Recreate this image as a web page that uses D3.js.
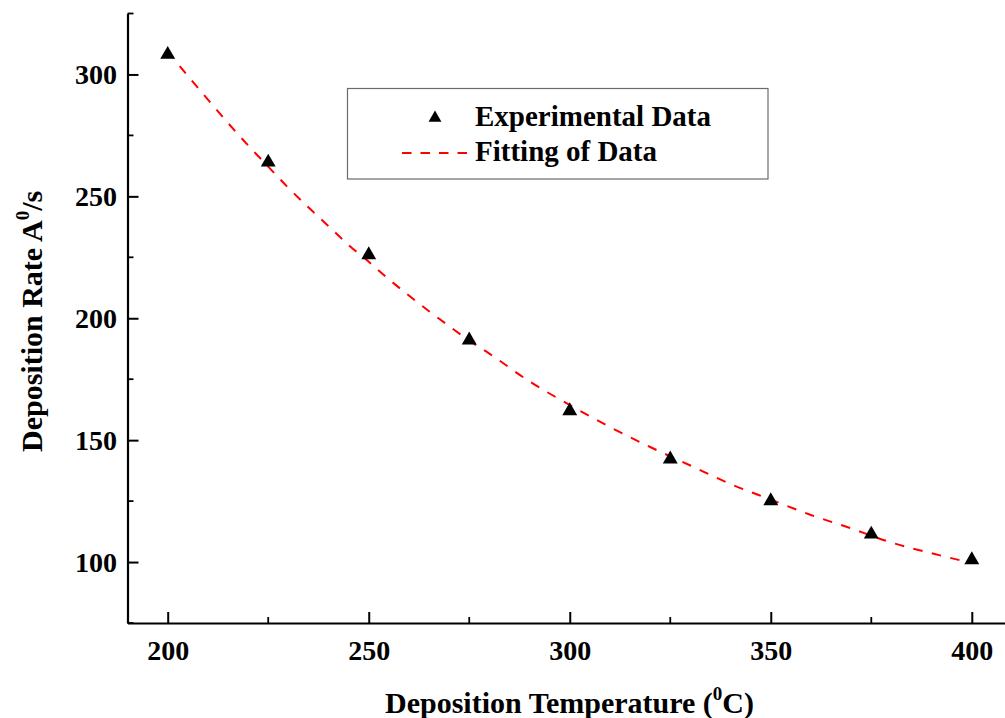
<!DOCTYPE html>
<html>
<head>
<meta charset="utf-8">
<script src="https://cdn.jsdelivr.net/npm/d3@7"></script>
<style>
  html, body { margin: 0; padding: 0; background: #fff; }
  svg { display: block; }
  text { font-family: "Liberation Serif", "Times New Roman", serif; font-weight: bold; fill: #000; }
</style>
</head>
<body>
<svg id="chart" width="1005" height="718"></svg>
<script>
// ---- data ----
const temperatures = [200, 225, 250, 275, 300, 325, 350, 375, 400];
const depositionRate = [308.6, 264.4, 226.4, 191.4, 162.4, 142.6, 125.5, 111.8, 101.3];

const fitTemperature = [200, 205, 210, 215, 220, 225, 230, 235, 240, 245, 250, 255, 260, 265, 270, 275, 280, 290, 300, 310, 320, 330, 340, 350, 360, 370, 380, 390, 400];
const fitRate = [309.5, 299.4, 289.7, 280.1, 270.9, 262.2, 253.5, 245.5, 237.8, 230.0, 223.2, 216.0, 209.3, 202.9, 196.8, 190.8, 185.5, 174.1, 164.4, 155.4, 147.2, 139.6, 132.0, 125.6, 119.3, 113.8, 108.0, 103.6, 99.6];

const xTickValues = [200, 250, 300, 350, 400];
const xMinorTicks = [225, 275, 325, 375];
const yTickValues = [100, 150, 200, 250, 300];
const yMinorTicks = [75, 125, 175, 225, 275, 325];

const legendLabels = ["Experimental Data", "Fitting of Data"];

// ---- layout ----
const svg = d3.select("#chart");
const x = d3.scaleLinear().domain([190, 410]).range([127.5, 1012]);
const y = d3.scaleLinear().domain([75, 325]).range([623, 13.5]);

// axes
const xAxis = d3.axisBottom(x).tickValues(xTickValues).tickSize(-11).tickSizeOuter(0).tickPadding(17).tickFormat(d3.format("d"));
const yAxis = d3.axisLeft(y).tickValues(yTickValues).tickSize(-11).tickSizeOuter(0).tickPadding(10.5).tickFormat(d3.format("d"));

const gx = svg.append("g").attr("transform", `translate(0,${y.range()[0]})`).call(xAxis);
const gy = svg.append("g").attr("transform", `translate(${x.range()[0]},0)`).call(yAxis);

[gx, gy].forEach(g => {
  g.select(".domain").attr("stroke", "#000").attr("stroke-width", 2.2);
  g.selectAll(".tick line").attr("stroke", "#000").attr("stroke-width", 2);
  g.selectAll(".tick text").style("font-family", '"Liberation Serif", serif')
    .style("font-weight", "bold").style("font-size", "28px").attr("fill", "#000");
});
gx.selectAll(".tick text").attr("dy", "0.71em");
gy.selectAll(".tick text").attr("dy", "0.34em");

// minor ticks
svg.append("g").selectAll("line").data(xMinorTicks).join("line")
  .attr("x1", d => x(d)).attr("x2", d => x(d))
  .attr("y1", y.range()[0]).attr("y2", y.range()[0] - 6)
  .attr("stroke", "#000").attr("stroke-width", 1.8);
svg.append("g").selectAll("line").data(yMinorTicks).join("line")
  .attr("y1", d => y(d)).attr("y2", d => y(d))
  .attr("x1", x.range()[0]).attr("x2", x.range()[0] + 6)
  .attr("stroke", "#000").attr("stroke-width", 1.8);

// fit line
const line = d3.line().x((d, i) => x(fitTemperature[i])).y(d => y(d)).curve(d3.curveMonotoneX);
svg.append("path").datum(fitRate)
  .attr("d", line)
  .attr("fill", "none").attr("stroke", "#ff0000").attr("stroke-width", 2)
  .attr("stroke-dasharray", "9.5,9.5");

// triangles
const tri = d3.symbol().type(d3.symbolTriangle).size(96);
svg.append("g").selectAll("path").data(depositionRate).join("path")
  .attr("d", tri)
  .attr("transform", (d, i) => `translate(${x(temperatures[i])},${y(d) + 1})`)
  .attr("fill", "#000");

// axis titles
const xt = svg.append("text").attr("x", 385).attr("y", 713)
  .style("font-size", "30px");
xt.append("tspan").text("Deposition Temperature (");
xt.append("tspan").text("0").style("font-size", "19px").attr("dy", -13);
xt.append("tspan").text("C)").attr("dy", 13);

const yt = svg.append("text").attr("transform", "translate(42,452) rotate(-90)")
  .style("font-size", "30px");
yt.append("tspan").text("Deposition Rate A");
yt.append("tspan").text("0").style("font-size", "19px").attr("dy", -13);
yt.append("tspan").text("/s").attr("dy", 13);

// legend
const lg = svg.append("g");
lg.append("rect").attr("x", 347.5).attr("y", 88.5).attr("width", 420.5).attr("height", 90.5)
  .attr("fill", "#fff").attr("stroke", "#6b6b6b").attr("stroke-width", 1.2);
lg.append("path").attr("d", d3.symbol().type(d3.symbolTriangle).size(72))
  .attr("transform", "translate(435,118)").attr("fill", "#000");
lg.append("line").attr("x1", 402).attr("x2", 469).attr("y1", 153).attr("y2", 153)
  .attr("stroke", "#ff0000").attr("stroke-width", 2).attr("stroke-dasharray", "9.5,9");
lg.selectAll("text.lab").data(legendLabels).join("text").attr("class", "lab")
  .attr("x", 475).attr("y", (d, i) => 126 + i * 35)
  .style("font-size", "29px").text(d => d);
</script>
</body>
</html>
